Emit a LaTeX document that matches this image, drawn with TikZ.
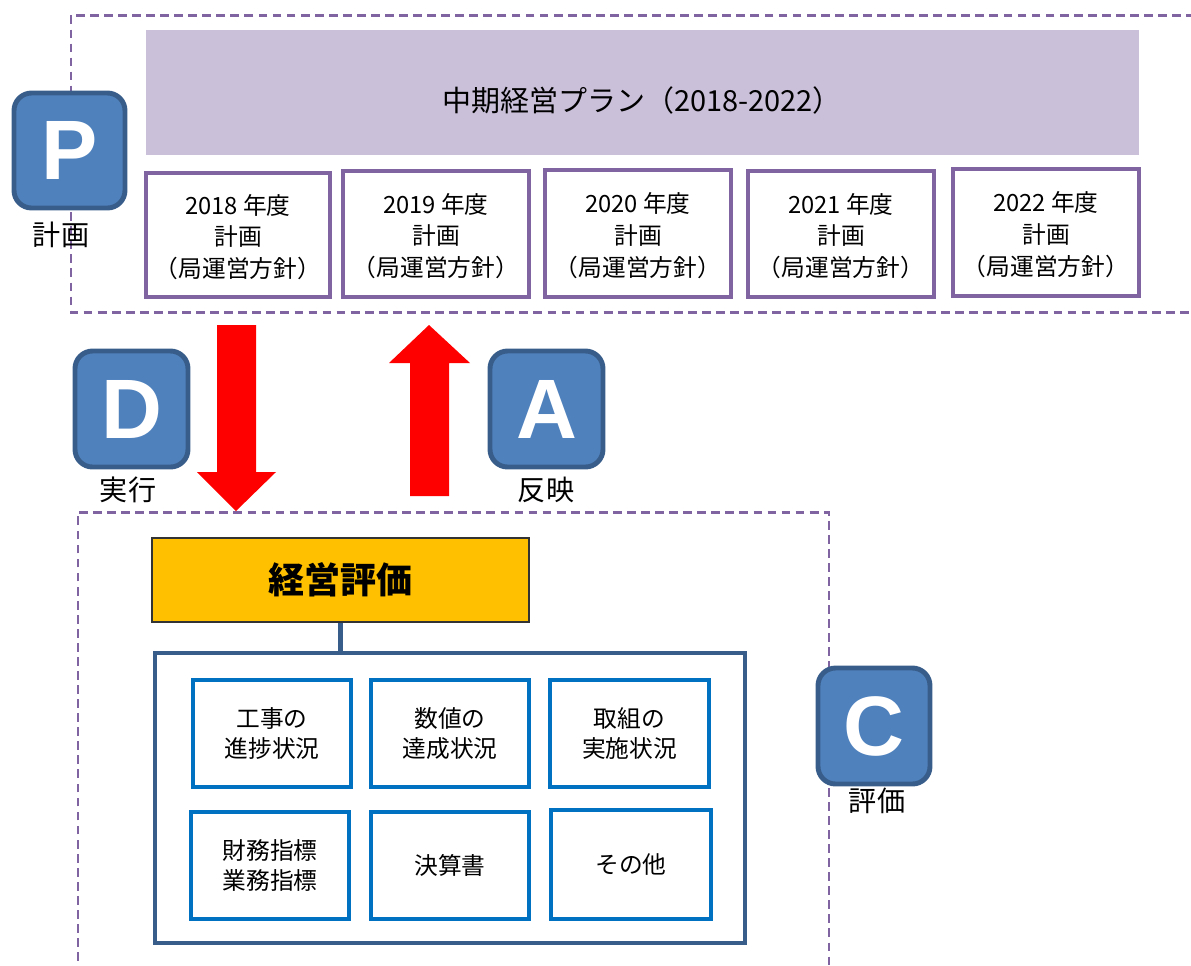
\documentclass[tikz,border=0pt]{standalone}
\usepackage{fontspec}
\setmainfont{Noto Sans CJK JP}
\newfontfamily\letterfont{Liberation Sans}
\usetikzlibrary{fit}
\definecolor{purp}{HTML}{8064A2}
\definecolor{lav}{HTML}{CBC0DA}
\definecolor{pdcafill}{HTML}{4F81BD}
\definecolor{pdcaline}{HTML}{385D8A}
\definecolor{gold}{HTML}{FFC000}
\definecolor{inblue}{HTML}{0070C0}
\tikzset{
  px/.style={x=0.02cm,y=-0.02cm},
  dashbox/.style={draw=purp,line width=1.7pt,dash pattern=on 5pt off 3pt},
  yearbox/.style={draw=purp,line width=2.3pt,fill=white,inner sep=0pt},
  yeartext/.style={align=center,inner sep=0pt,font=\fontsize{13.5}{18}\selectfont},
  pdca/.style={draw=pdcaline,fill=pdcafill,line width=2.8pt,rounded corners=10pt,inner sep=0pt},
  pdcaletter/.style={text=white,inner sep=0pt,font=\letterfont\bfseries\fontsize{48}{48}\selectfont},
  pdcalabel/.style={font=\fontsize{16}{18}\selectfont,inner sep=0pt},
  itembox/.style={draw=inblue,line width=2.8pt,fill=white,inner sep=0pt},
  itemtext/.style={align=center,inner sep=0pt,font=\fontsize{13.5}{17}\selectfont},
  redarrow/.style={fill=red,draw=none},
}
\begin{document}
\begin{tikzpicture}[px]
\useasboundingbox (0,0) rectangle (1191,965);
% dashed regions
\draw[dashbox] (1195,15) -- (71,15) -- (71,312) -- (1195,312);
\draw[dashbox] (78,975) -- (78,512) -- (829,512) -- (829,975);
% plan banner
\node[fit={(146,30) (1139,155)},inner sep=0pt,fill=lav] (plan) {};
\node[inner sep=0pt,font=\fontsize{16.5}{18}\selectfont] (plantext) at (642,100) {中期経営プラン（2018-2022）};
% year boxes
\node[yearbox,fit={(146,173) (330,297)}] (y18) {};
\node[yearbox,fit={(343,171) (529,297)}] (y19) {};
\node[yearbox,fit={(545,170) (731,297)}] (y20) {};
\node[yearbox,fit={(748,171) (934,297)}] (y21) {};
\node[yearbox,fit={(953,169) (1139,296)}] (y22) {};
\node[yeartext,yshift=-0.04cm] (t18) at (y18.center) {2018 年度\\計画\\（局運営方針）};
\node[yeartext,yshift=-0.04cm] (t19) at (y19.center) {2019 年度\\計画\\（局運営方針）};
\node[yeartext,yshift=-0.04cm] (t20) at (y20.center) {2020 年度\\計画\\（局運営方針）};
\node[yeartext,yshift=-0.04cm] (t21) at (y21.center) {2021 年度\\計画\\（局運営方針）};
\node[yeartext,yshift=-0.04cm] (t22) at (y22.center) {2022 年度\\計画\\（局運営方針）};
% PDCA badges
\node[pdca,fit={(14,93) (125,208)}] (P) {};
\node[pdcaletter] (Pt) at (P.center) {P};
\node[pdcalabel] (Pl) at (61,235) {計画};
\node[pdca,fit={(75,351) (188,467)}] (D) {};
\node[pdcaletter] (Dt) at (D.center) {D};
\node[pdcalabel] (Dl) at (128,490) {実行};
\node[pdca,fit={(490,351) (603,467)}] (A) {};
\node[pdcaletter] (At) at (A.center) {A};
\node[pdcalabel] (Al) at (546,490) {反映};
\node[pdca,fit={(818,668) (930,784)}] (C) {};
\node[pdcaletter] (Ct) at (C.center) {C};
\node[pdcalabel] (Cl) at (877,801) {評価};
% red arrows
\fill[redarrow] (217,325) -- (256,325) -- (256,472) -- (276,472) -- (236,511) -- (197,472) -- (217,472) -- cycle;
\fill[redarrow] (410,496) -- (449,496) -- (449,363) -- (470,363) -- (429,325) -- (389,363) -- (410,363) -- cycle;
% evaluation
\node[fit={(152,538) (529,622)},inner sep=0pt,fill=gold,draw=black!80,line width=0.8pt] (eval) {};
\node[inner sep=0pt,font=\bfseries\fontsize{20.5}{24}\selectfont] (evaltext) at (eval.center) {経営評価};
\node[fit={(155,653) (745,943)},inner sep=0pt,draw=pdcaline,line width=2.3pt] (outer) {};
\draw[pdcaline,line width=2.3pt] (eval.south) -- (eval.south |- outer.north);
\node[itembox,fit={(193,680) (351,787)}] (i1) {};
\node[itembox,fit={(371,680) (529,787)}] (i2) {};
\node[itembox,fit={(550,680) (709,787)}] (i3) {};
\node[itembox,fit={(191,812) (349,919)}] (i4) {};
\node[itembox,fit={(371,812) (529,919)}] (i5) {};
\node[itembox,fit={(551,810) (711,919)}] (i6) {};
\node[itemtext] (s1) at (i1.center) {工事の\\進捗状況};
\node[itemtext] (s2) at (i2.center) {数値の\\達成状況};
\node[itemtext] (s3) at (i3.center) {取組の\\実施状況};
\node[itemtext] (s4) at (i4.center) {財務指標\\業務指標};
\node[itemtext] (s5) at (i5.center) {決算書};
\node[itemtext] (s6) at (i6.center) {その他};
\end{tikzpicture}
\end{document}
